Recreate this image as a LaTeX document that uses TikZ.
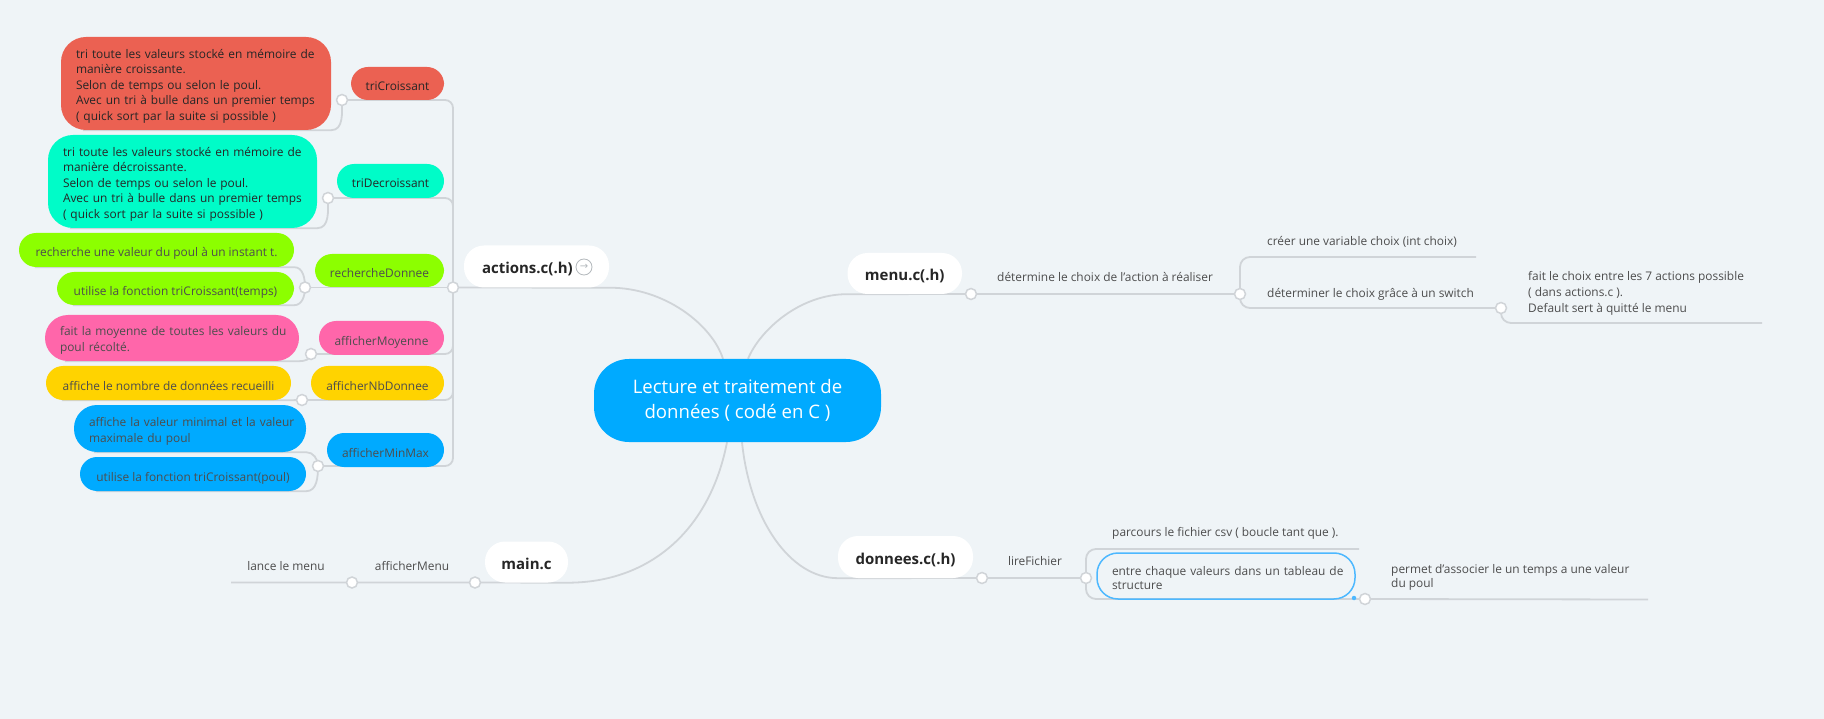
\documentclass[tikz,border=0pt]{standalone}
\usepackage{fontspec}
\setmainfont{Open Sans}
\newfontfamily\symfont{DejaVu Sans}
\newcommand\lblfont{\fontsize{11.9pt}{15.5pt}\selectfont}
\newcommand\ttlfont{\fontsize{15pt}{18pt}\selectfont\bfseries}
\newcommand\myrootfont{\fontsize{18.6pt}{25pt}\selectfont}
\definecolor{bgc}{HTML}{EFF4F7}
\definecolor{linec}{HTML}{D0D4D8}
\definecolor{cRed}{HTML}{EB6152}
\definecolor{cCyan}{HTML}{00FCC8}
\definecolor{cGreen}{HTML}{8CFF00}
\definecolor{cPink}{HTML}{FF66AA}
\definecolor{cYellow}{HTML}{FFD300}
\definecolor{cBlue}{HTML}{00AAFF}
\definecolor{selc}{HTML}{4DB8FF}
\definecolor{txtdark}{HTML}{262626}
\definecolor{txtgray}{HTML}{4D4D4D}
\definecolor{iconc}{HTML}{B4B9BD}
\pgfdeclarelayer{bg}
\pgfdeclarelayer{background}
\pgfsetlayers{bg,background,main}
\tikzset{
  conn/.style={draw=linec, line width=1.8pt},
  joint/.style={circle, draw=linec, line width=1.5pt, fill=white, minimum size=11pt, inner sep=0pt},
  box/.style={inner sep=0pt, rounded corners=17pt, font=\lblfont, text=txtgray, text height=15pt, text depth=1pt},
  multibox/.style={inner ysep=0pt, inner xsep=15pt, font=\lblfont, align=left, text=txtgray, text height=14pt},
  title/.style={fill=white, inner sep=0pt, rounded corners=20pt, font=\ttlfont, text=txtdark, text height=19pt, text depth=4pt},
  plain/.style={inner sep=0pt, font=\lblfont, text=txtgray, align=left},
}
\begin{document}
\begin{tikzpicture}[x=1pt,y=-1pt]
\begin{pgfonlayer}{bg}
\fill[bgc] (0,0) rectangle (1824,719);
\end{pgfonlayer}
\useasboundingbox (0,0) rectangle (1824,719);

% root
\node[fill=cBlue, rounded corners=35pt, minimum width=287pt, minimum height=83pt, text=white, font=\myrootfont, align=center, inner sep=0pt] (root) at (737.5,400.5) {Lecture et traitement de\\données ( codé en C )};

% main topics
\node[title, minimum height=42pt, inner xsep=18pt, text width=109pt, align=left] (actions) at (536.5,266.5) {actions.c(.h)};
\node[circle, draw=iconc, line width=0.8pt, minimum size=16pt, inner sep=0pt, text=iconc, font=\symfont\fontsize{10pt}{10pt}\selectfont] (icon) at (584,267) {→};
\node[title, minimum width=114.5pt, minimum height=41pt] (menu) at (904.75,273.5) {menu.c(.h)};
\node[title, minimum width=83pt, minimum height=41pt] (main) at (526.5,562) {main.c};
\node[title, minimum width=135pt, minimum height=42pt] (donnees) at (905.5,557) {donnees.c(.h)};

% actions children
\node[box, fill=cRed, text=txtdark, minimum width=93pt, minimum height=33pt] (triC) at (397.5,83.5) {triCroissant};
\node[box, fill=cCyan, text=txtdark, minimum width=107pt, minimum height=34pt] (triD) at (390.5,181) {triDecroissant};
\node[box, fill=cGreen, minimum width=129pt, minimum height=33pt] (rech) at (379.5,270.5) {rechercheDonnee};
\node[box, fill=cPink, minimum width=125pt, minimum height=34pt] (moy) at (381.5,338) {afficherMoyenne};
\node[box, fill=cYellow, minimum width=133pt, minimum height=34pt] (nb) at (377.5,383) {afficherNbDonnee};
\node[box, fill=cBlue, minimum width=117pt, minimum height=34pt] (minmax) at (385.5,450) {afficherMinMax};

% leaves
\node[multibox, fill=cRed, text=txtdark, rounded corners=25pt, minimum height=93pt, text width=240pt] (lRed) at (196,83.5) {\mbox{tri toute les valeurs stocké en mémoire de}\\manière croissante.\\Selon de temps ou selon le poul.\\\mbox{Avec un tri à bulle dans un premier temps}\\( quick sort par la suite si possible )};
\node[multibox, fill=cCyan, text=txtdark, rounded corners=25pt, minimum height=93pt, text width=239pt] (lCyan) at (182.5,181.5) {\mbox{tri toute les valeurs stocké en mémoire de}\\manière décroissante.\\Selon de temps ou selon le poul.\\\mbox{Avec un tri à bulle dans un premier temps}\\( quick sort par la suite si possible )};
\node[box, fill=cGreen, minimum width=275pt, minimum height=34pt] (lGreenA) at (156.5,250) {recherche une valeur du poul à un instant t.};
\node[box, fill=cGreen, minimum width=237pt, minimum height=33pt] (lGreenB) at (175.5,288.5) {utilise la fonction triCroissant(temps)};
\node[multibox, fill=cPink, rounded corners=23pt, minimum height=46pt, text width=224pt, font=\fontsize{11.9pt}{16pt}\selectfont] (lPink) at (172,338) {\mbox{fait la moyenne de toutes les valeurs du}\\poul récolté.};
\node[box, fill=cYellow, minimum width=245pt, minimum height=34pt] (lYellow) at (168.5,383) {affiche le nombre de données recueilli};
\node[multibox, fill=cBlue, rounded corners=23pt, minimum height=47pt, text width=202pt, font=\fontsize{11.9pt}{16pt}\selectfont] (lBlueA) at (190,428.5) {\mbox{affiche la valeur minimal et la valeur}\\maximale du poul};
\node[box, fill=cBlue, minimum width=226pt, minimum height=34pt] (lBlueB) at (193,474) {utilise la fonction triCroissant(poul)};

% joints
\node[joint] (actc) at (453,287.5) {};
\node[joint] (c1) at (342,100) {};
\node[joint] (c2) at (328,198) {};
\node[joint] (c3) at (305,287.5) {};
\node[joint] (c4) at (311,354) {};
\node[joint] (c5) at (302,400) {};
\node[joint] (c6) at (318,466) {};

% menu branch
\node[joint] (m0) at (971,294) {};
\node[plain, anchor=west] (t1) at (997,277) {détermine le choix de l'action à réaliser};
\node[joint] (m1) at (1240,294) {};
\node[plain, anchor=west] (t2) at (1267,242) {créer une variable choix (int choix)};
\coordinate (e2) at (1476,257);
\node[plain, anchor=west] (t3) at (1267,294) {déterminer le choix grâce à un switch};
\node[joint] (m3) at (1501,308) {};
\node[plain, anchor=west, font=\fontsize{11.9pt}{16pt}\selectfont] (t4) at (1528,293) {fait le choix entre les 7 actions possible\\( dans actions.c ).\\Default sert à quitté le menu};
\coordinate (e4) at (1762,323);

% main branch
\node[joint] (mm0) at (475,582.5) {};
\node[plain] (t5) at (412,566) {afficherMenu};
\node[joint] (mm1) at (352,582.5) {};
\node[plain] (t6) at (286,566) {lance le menu};
\coordinate (e5) at (231,582.5);

% donnees branch
\node[joint] (d0) at (982,578) {};
\node[plain] (t7) at (1035,561) {lireFichier};
\node[joint] (d1) at (1086,578) {};
\node[plain, anchor=west] (t8) at (1112,533) {parcours le fichier csv ( boucle tant que ).};
\coordinate (e6) at (1359,549);
\node[multibox, draw=selc, line width=1.5pt, rounded corners=21pt, minimum height=46pt, text width=228pt, font=\fontsize{11.9pt}{14pt}\selectfont] (sel) at (1226,576) {\mbox{entre chaque valeurs dans un tableau de}\\structure};
\node[circle, fill=selc, minimum size=4.5pt, inner sep=0pt] (handle) at (1354,598) {};
\node[joint] (d2) at (1365,599) {};
\node[plain, anchor=west, font=\fontsize{11.9pt}{14pt}\selectfont] (t9) at (1391,577) {permet d'associer le un temps a une valeur\\du poul};
\coordinate (e7) at (1648,599.5);

\begin{pgfonlayer}{background}
% root connectors
\draw[conn] ([xshift=-14.5pt]root.north) .. controls (712,325) and (665,287.5) .. (actions.south east) -- (actc.center);
\draw[conn] ([xshift=10.5pt]root.north) .. controls (760,330) and (800,294) .. (menu.south west) -- (m0.center) -- (m1.center);
\draw[conn] ([xshift=-10.5pt]root.south) .. controls (710,530) and (650,582.5) .. (main.south east) -- (mm0.center) -- (mm1.center) -- (e5);
\draw[conn] ([xshift=4.5pt]root.south) .. controls (750,520) and (790,578) .. (donnees.south west) -- (d0.center) -- (d1.center);
% trunk
\foreach \c in {c1,c2,c4,c5,c6} \draw[conn, rounded corners=8pt] (actc.center) |- (\c.center);
\draw[conn] (actc.center) -- (c3.center);
% leaves
\draw[conn] (c1.center) to[out=-90,in=0] (lRed.south east) -- ([xshift=22pt]lRed.south west);
\draw[conn] (c2.center) to[out=-90,in=0] (lCyan.south east) -- ([xshift=22pt]lCyan.south west);
\draw[conn] (c3.center) to[out=90,in=0] (lGreenA.south east) -- ([xshift=16pt]lGreenA.south west);
\draw[conn] (c3.center) to[out=-90,in=0] (lGreenB.south east) -- ([xshift=16pt]lGreenB.south west);
\draw[conn] (c4.center) to[out=-90,in=0] (lPink.south east) -- ([xshift=20pt]lPink.south west);
\draw[conn] (c5.center) -- (lYellow.south east) -- ([xshift=16pt]lYellow.south west);
\draw[conn] (c6.center) to[out=90,in=0] (lBlueA.south east) -- ([xshift=20pt]lBlueA.south west);
\draw[conn] (c6.center) to[out=-90,in=0] (lBlueB.south east) -- ([xshift=16pt]lBlueB.south west);
% menu sub-branches
\draw[conn, rounded corners=10pt] (m1.center) |- (e2);
\draw[conn, rounded corners=10pt] (m1.center) |- (m3.center);
\draw[conn, rounded corners=10pt] (m3.center) |- (e4);
% donnees sub-branches
\draw[conn, rounded corners=10pt] (d1.center) |- (e6);
\draw[conn, rounded corners=10pt] (d1.center) |- (d2.center);
\draw[conn] (d2.center) -- (e7);
\end{pgfonlayer}
\end{tikzpicture}
\end{document}
